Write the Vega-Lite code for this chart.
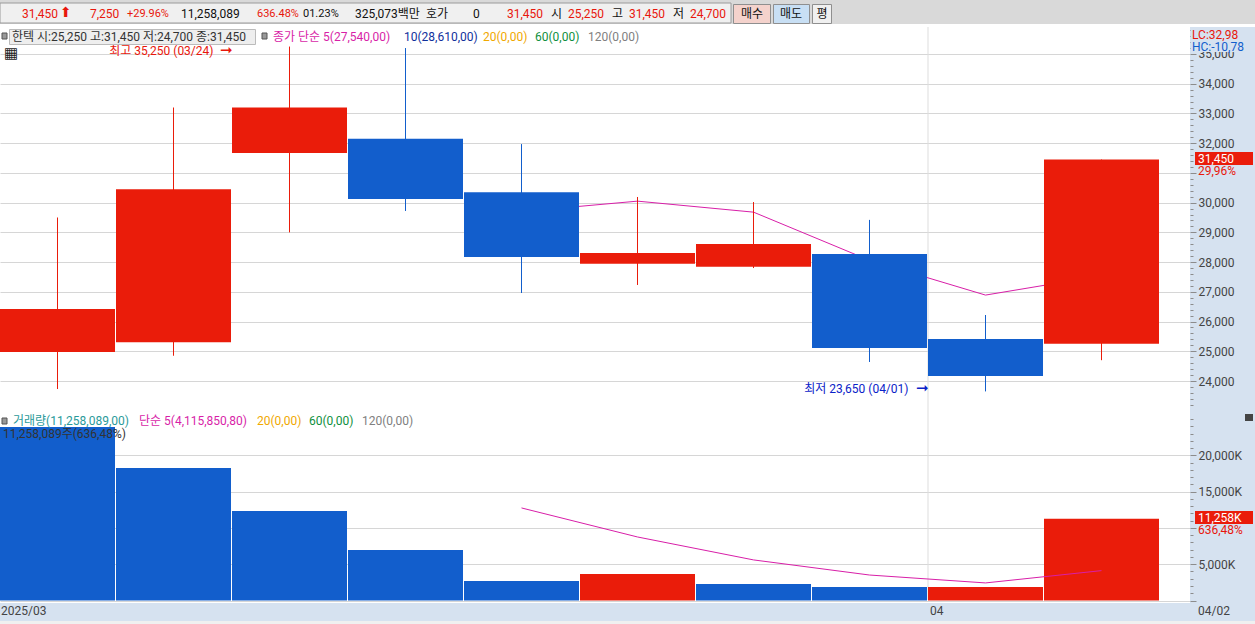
{"$schema":"https://vega.github.io/schema/vega-lite/v6.json","width":1190,"height":624,"autosize":{"type":"none"},"padding":{"left":0,"top":0,"right":65,"bottom":0},"background":"#d6e2f0","view":{"fill":"#ffffff","stroke":null},
"config":{"view":{"stroke":null},"text":{"font":"Roboto, Noto Sans CJK KR","fontSize":12,"baseline":"middle","align":"left"},"axis":{"labelFont":"Roboto","labelFontSize":12,"labelColor":"#444444","tickColor":"#8c8c8c","domain":false,"gridColor":"#d6d6d6","labelBaseline":"middle"}},
"datasets":{"one":[{"k":1}],
"s":[
{"date":"03/20","open":24975,"high":29500,"low":23730,"close":26425,"ma5":null,"vol":23900,"volma":null,"dir":"up","vdir":"down"},
{"date":"03/21","open":25300,"high":33200,"low":24850,"close":30450,"ma5":null,"vol":18250,"volma":null,"dir":"up","vdir":"down"},
{"date":"03/24","open":31670,"high":35250,"low":29000,"close":33200,"ma5":null,"vol":12330,"volma":null,"dir":"up","vdir":"down"},
{"date":"03/25","open":32150,"high":35200,"low":29720,"close":30120,"ma5":null,"vol":6950,"volma":null,"dir":"down","vdir":"down"},
{"date":"03/26","open":30350,"high":31970,"low":26960,"close":28170,"ma5":29700,"vol":2690,"volma":12750,"dir":"down","vdir":"down"},
{"date":"03/27","open":27940,"high":30190,"low":27230,"close":28310,"ma5":30050,"vol":3650,"volma":8750,"dir":"up","vdir":"up"},
{"date":"03/28","open":27840,"high":30020,"low":27800,"close":28610,"ma5":29680,"vol":2270,"volma":5590,"dir":"up","vdir":"down"},
{"date":"03/31","open":28270,"high":29420,"low":24640,"close":25110,"ma5":28060,"vol":1860,"volma":3510,"dir":"down","vdir":"down"},
{"date":"04/01","open":25410,"high":26220,"low":23650,"close":24170,"ma5":26890,"vol":1860,"volma":2420,"dir":"down","vdir":"up"},
{"date":"04/02","open":25250,"high":31450,"low":24700,"close":31450,"ma5":27540,"vol":11258,"volma":4116,"dir":"up","vdir":"up"}]},
"data":{"name":"s"},
"layer":[
{"mark":{"type":"point","opacity":0},"encoding":{"y":{"field":"close","type":"quantitative","scale":{"domain":[22991,35908],"range":[411,27],"nice":false},"axis":{"orient":"right","title":null,"grid":false,"labels":false,"tickSize":3,"values":[23200,23400,23600,23800,24200,24400,24600,24800,25200,25400,25600,25800,26200,26400,26600,26800,27200,27400,27600,27800,28200,28400,28600,28800,29200,29400,29600,29800,30200,30400,30600,30800,31200,31400,31600,31800,32200,32400,32600,32800,33200,33400,33600,33800,34200,34400,34600,34800,35200,35400,35600,35800]}}}},
{"mark":{"type":"point","opacity":0},"encoding":{"y":{"field":"vol","type":"quantitative","scale":{"domain":[0,26100],"range":[600.5,411],"nice":false},"axis":{"orient":"right","title":null,"grid":false,"labels":false,"tickSize":3,"values":[1000,2000,3000,4000,6000,7000,8000,9000,11000,12000,13000,14000,16000,17000,18000,19000,21000,22000,23000,24000,25000]}}}},
{"layer":[
{"transform":[{"filter":"datum.date==='04/01'"}],"mark":{"type":"rule","y":27,"y2":600,"color":"#dddddd","xOffset":-57.5},"encoding":{"x":{"field":"date","type":"nominal","axis":null,"scale":{"type":"band","domain":["03/20","03/21","03/24","03/25","03/26","03/27","03/28","03/31","04/01","04/02"],"paddingInner":0.0086,"paddingOuter":0.1336,"align":0}}}},
{"mark":{"type":"line","color":"#d81fa8","strokeWidth":1},"encoding":{"x":{"field":"date","type":"nominal","sort":null,"axis":null},"y":{"field":"ma5","type":"quantitative","scale":{"domain":[22991,35908],"range":[411,27],"nice":false},"axis":{"orient":"right","title":null,"grid":true,"values":[24000,25000,26000,27000,28000,29000,30000,31000,32000,33000,34000,35000],"labelExpr":"datum.value==31000?'':format(datum.value,',')","tickSize":6,"labelPadding":2}}}},
{"mark":{"type":"rule","strokeWidth":1},"encoding":{"x":{"field":"date","type":"nominal","sort":null,"axis":null},"y":{"field":"low","type":"quantitative"},"y2":{"field":"high"},"color":{"field":"dir","type":"nominal","legend":null,"scale":{"domain":["up","down"],"range":["#ea1c0a","#125ecc"]}}}},
{"mark":{"type":"bar"},"encoding":{"x":{"field":"date","type":"nominal","sort":null,"axis":null},"y":{"field":"open","type":"quantitative"},"y2":{"field":"close"},"color":{"field":"dir","type":"nominal","legend":null}}},
{"transform":[{"filter":"datum.date==='03/24'"}],"layer":[{"mark":{"type":"text","align":"right","dx":-76,"dy":4,"color":"#e8170c","text":"최고 35,250 (03/24)"},"encoding":{"x":{"field":"date","type":"nominal","sort":null,"axis":null},"y":{"field":"high","type":"quantitative"}}},
{"mark":{"type":"text","align":"right","dx":-57,"dy":3,"color":"#e8170c","font":"DejaVu Sans","fontSize":15,"text":"➞"},"encoding":{"x":{"field":"date","type":"nominal","sort":null,"axis":null},"y":{"field":"high","type":"quantitative"}}}]},
{"transform":[{"filter":"datum.date==='04/01'"}],"layer":[{"mark":{"type":"text","align":"right","dx":-77,"dy":-2,"color":"#0a22c8","text":"최저 23,650 (04/01)"},"encoding":{"x":{"field":"date","type":"nominal","sort":null,"axis":null},"y":{"field":"low","type":"quantitative"}}},
{"mark":{"type":"text","align":"right","dx":-57,"dy":-3,"color":"#0a22c8","font":"DejaVu Sans","fontSize":15,"text":"➞"},"encoding":{"x":{"field":"date","type":"nominal","sort":null,"axis":null},"y":{"field":"low","type":"quantitative"}}}]}
]},
{"layer":[
{"mark":{"type":"bar"},"encoding":{"x":{"field":"date","type":"nominal","sort":null,"axis":null},"y":{"field":"vol","type":"quantitative","scale":{"domain":[0,26100],"range":[600.5,411],"nice":false},"axis":{"orient":"right","title":null,"grid":true,"values":[0,5000,10000,15000,20000],"labelExpr":"datum.value==0||datum.value==10000?'':format(datum.value,',')+'K'","tickSize":6,"labelPadding":2}},"color":{"field":"vdir","type":"nominal","legend":null}}},
{"mark":{"type":"line","color":"#d81fa8","strokeWidth":1},"encoding":{"x":{"field":"date","type":"nominal","sort":null,"axis":null},"y":{"field":"volma","type":"quantitative"}}}
]},
{"data":{"name":"one"},"layer":[
{"mark":{"type":"rect","x":0,"x2":1190,"y":603,"y2":621,"fill":"#d6e2f0"}},
{"mark":{"type":"rect","x":0,"x2":1255,"y":621,"y2":624,"fill":"#f0f0f0"}},
{"mark":{"type":"rule","x":0,"x2":1255,"y":411.5,"y2":411.5,"color":"#999999"},"encoding":{}},
{"mark":{"type":"rule","x":0,"x2":1255,"y":602.5,"y2":602.5,"color":"#999999"},"encoding":{}},
{"mark":{"type":"rule","x":0,"x2":1255,"y":621,"y2":621,"color":"#999999","strokeWidth":2},"encoding":{}},
{"mark":{"type":"rule","x":1190,"x2":1190,"y":27,"y2":621,"color":"#999999","strokeWidth":2},"encoding":{}},
{"mark":{"type":"rule","x":928,"x2":928,"y":603,"y2":621,"color":"#999999"},"encoding":{}},
{"mark":{"type":"rect","x":0,"x2":1255,"y":0,"y2":25,"fill":"#d9d9d9"}},
{"mark":{"type":"rect","x":0,"x2":731,"y":3,"y2":23,"fill":"#f0f0f0","stroke":"#9a9a9a"}},
{"mark":{"type":"rect","x":0,"x2":1255,"y":24,"y2":27,"fill":"#ffffff"}},
{"mark":{"type":"rule","x":0,"x2":1255,"y":27,"y2":27,"color":"#a0a0a0","strokeWidth":2},"encoding":{}},
{"mark":{"type":"rule","x":170.5,"x2":170.5,"y":3,"y2":23,"color":"#9a9a9a"},"encoding":{}},
{"mark":{"type":"rule","x":350.5,"x2":350.5,"y":3,"y2":23,"color":"#9a9a9a"},"encoding":{}},
{"mark":{"type":"rule","x":423.5,"x2":423.5,"y":3,"y2":23,"color":"#9a9a9a"},"encoding":{}},
{"mark":{"type":"rule","x":549.5,"x2":549.5,"y":3,"y2":23,"color":"#9a9a9a"},"encoding":{}},
{"mark":{"type":"rect","x":733.5,"x2":770.5,"y":4.5,"y2":23.5,"fill":"#f4d2cc","stroke":"#8f8f8f"}},
{"mark":{"type":"rect","x":773.5,"x2":809.5,"y":4.5,"y2":23.5,"fill":"#c8dff4","stroke":"#8f8f8f"}},
{"mark":{"type":"rect","x":812.5,"x2":831.5,"y":4.5,"y2":23.5,"fill":"#f0f0f0","stroke":"#8f8f8f"}},
{"mark":{"type":"text","x":22,"y":14,"color":"#e8170c","text":"31,450"}},
{"mark":{"type":"text","x":60,"y":13,"color":"#e8170c","font":"DejaVu Sans","fontSize":14,"text":"⬆"}},
{"mark":{"type":"text","x":90,"y":14,"color":"#e8170c","text":"7,250"}},
{"mark":{"type":"text","x":127,"y":14,"color":"#e8170c","fontSize":11,"text":"+29.96%"}},
{"mark":{"type":"text","x":181,"y":14,"color":"#111111","text":"11,258,089"}},
{"mark":{"type":"text","x":257,"y":14,"color":"#e8170c","fontSize":11,"text":"636.48%"}},
{"mark":{"type":"text","x":303,"y":14,"color":"#111111","fontSize":11,"text":"01.23%"}},
{"mark":{"type":"text","x":355,"y":14,"color":"#111111","text":"325,073백만"}},
{"mark":{"type":"text","x":426,"y":14,"color":"#111111","text":"호가"}},
{"mark":{"type":"text","x":473,"y":14,"color":"#111111","text":"0"}},
{"mark":{"type":"text","x":507,"y":14,"color":"#e8170c","text":"31,450"}},
{"mark":{"type":"text","x":551,"y":14,"color":"#111111","text":"시"}},
{"mark":{"type":"text","x":568,"y":14,"color":"#e8170c","text":"25,250"}},
{"mark":{"type":"text","x":612,"y":14,"color":"#111111","text":"고"}},
{"mark":{"type":"text","x":629,"y":14,"color":"#e8170c","text":"31,450"}},
{"mark":{"type":"text","x":673,"y":14,"color":"#111111","text":"저"}},
{"mark":{"type":"text","x":690,"y":14,"color":"#e8170c","text":"24,700"}},
{"mark":{"type":"text","x":752,"y":14,"align":"center","color":"#111111","text":"매수"}},
{"mark":{"type":"text","x":791,"y":14,"align":"center","color":"#111111","text":"매도"}},
{"mark":{"type":"text","x":822,"y":14,"align":"center","color":"#111111","text":"평"}},
{"mark":{"type":"rect","x":2,"x2":7,"y":33,"y2":39,"fill":"#999999","stroke":"#555555"}},
{"mark":{"type":"rect","x":9.5,"x2":255.5,"y":29.5,"y2":44.5,"fill":"#eeeeee","stroke":"#bbbbbb"}},
{"mark":{"type":"text","x":12,"y":37,"color":"#333333","text":"한텍 시:25,250 고:31,450 저:24,700 종:31,450"}},
{"mark":{"type":"rect","x":262,"x2":267,"y":33,"y2":39,"fill":"#999999","stroke":"#555555"}},
{"mark":{"type":"text","x":273,"y":37,"color":"#d81fa8","text":"종가 단순 5(27,540,00)"}},
{"mark":{"type":"text","x":404,"y":37,"color":"#10309c","text":"10(28,610,00)"}},
{"mark":{"type":"text","x":483,"y":37,"color":"#f0a800","text":"20(0,00)"}},
{"mark":{"type":"text","x":535,"y":37,"color":"#109040","text":"60(0,00)"}},
{"mark":{"type":"text","x":588,"y":37,"color":"#808080","text":"120(0,00)"}},
{"mark":{"type":"text","x":4,"y":53,"color":"#222222","font":"DejaVu Sans","fontSize":15,"text":"▦"}},
{"mark":{"type":"rect","x":1191,"x2":1255,"y":28,"y2":52,"fill":"#d6e2f0"}},
{"mark":{"type":"text","x":1192,"y":35,"color":"#e8170c","fontSize":12,"text":"LC:32,98"}},
{"mark":{"type":"text","x":1192,"y":47,"color":"#125ecc","fontSize":12,"text":"HC:-10,78"}},
{"mark":{"type":"rect","x":1195,"x2":1253,"y":152,"y2":165,"fill":"#ea1c0a"}},
{"mark":{"type":"text","x":1198,"y":159,"color":"#ffffff","text":"31,450"}},
{"mark":{"type":"text","x":1198,"y":171,"color":"#e8170c","text":"29,96%"}},
{"mark":{"type":"rect","x":1195,"x2":1253,"y":511,"y2":524,"fill":"#ea1c0a"}},
{"mark":{"type":"text","x":1198,"y":518,"color":"#ffffff","text":"11,258K"}},
{"mark":{"type":"text","x":1198,"y":530,"color":"#e8170c","text":"636,48%"}},
{"mark":{"type":"rect","x":1245,"x2":1253,"y":414,"y2":421,"fill":"#444444"}},
{"mark":{"type":"rect","x":2,"x2":7,"y":418,"y2":424,"fill":"#999999","stroke":"#555555"}},
{"mark":{"type":"text","x":13,"y":421,"color":"#2a9a9a","text":"거래량(11,258,089,00)"}},
{"mark":{"type":"text","x":139,"y":421,"color":"#d81fa8","text":"단순 5(4,115,850,80)"}},
{"mark":{"type":"text","x":257,"y":421,"color":"#f0a800","text":"20(0,00)"}},
{"mark":{"type":"text","x":309,"y":421,"color":"#109040","text":"60(0,00)"}},
{"mark":{"type":"text","x":362,"y":421,"color":"#808080","text":"120(0,00)"}},
{"mark":{"type":"text","x":3,"y":434,"color":"#333333","text":"11,258,089주(636,48%)"}},
{"mark":{"type":"text","x":1,"y":611,"color":"#444444","text":"2025/03"}},
{"mark":{"type":"text","x":930,"y":611,"color":"#444444","text":"04"}},
{"mark":{"type":"text","x":1198,"y":611,"color":"#444444","text":"04/02"}}
]}
],
"resolve":{"scale":{"y":"independent"}}}
